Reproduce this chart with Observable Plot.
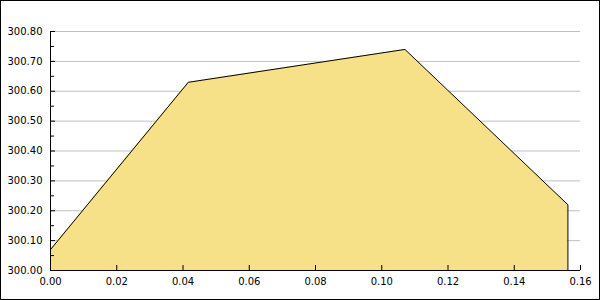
<!DOCTYPE html>
<html>
<head>
<meta charset="utf-8">
<script src="https://cdn.jsdelivr.net/npm/d3@7"></script>
<script src="https://cdn.jsdelivr.net/npm/@observablehq/plot@0.6"></script>
<style>
  html, body { margin: 0; padding: 0; background: #fff; }
  #wrap { position: relative; width: 600px; height: 300px; overflow: hidden; }
  #wrap svg { position: absolute; left: 0; top: 0; }
  #border { position: absolute; left: 0; top: 0; width: 600px; height: 300px; box-sizing: border-box; border: 1px solid #000; pointer-events: none; }
</style>
</head>
<body>
<div id="wrap"><div id="border"></div></div>
<script>
const xValues = [0.0, 0.0416, 0.107, 0.1562];
const yValues = [300.07, 300.63, 300.74, 300.22];
const xTicks = [0, 0.02, 0.04, 0.06, 0.08, 0.10, 0.12, 0.14, 0.16];
const yTicks = [300.0, 300.1, 300.2, 300.3, 300.4, 300.5, 300.6, 300.7, 300.8];
const yMinorTicks = [300.05, 300.15, 300.25, 300.35, 300.45, 300.55, 300.65, 300.75];

const yBase = 300.0;
const data = xValues.map((x, i) => ({x, y: yValues[i]}));
const lineData = [...data, {x: xValues[xValues.length - 1], y: yBase}];
const fmt = d3.format(".2f");
const font = "DejaVu Sans, sans-serif";

const chart = Plot.plot({
  width: 600,
  height: 300,
  marginLeft: 50,
  marginRight: 20,
  marginTop: 31,
  marginBottom: 30,
  style: {fontFamily: font, fontSize: "10px", color: "#000", background: "transparent"},
  x: {domain: [0, 0.16]},
  y: {domain: [300.0, 300.8]},
  marks: [
    Plot.gridY(yTicks, {stroke: "#c0c0c0", strokeOpacity: 1, strokeWidth: 1}),
    Plot.areaY(data, {x: "x", y1: yBase, y2: "y", fill: "#f6e188", fillOpacity: 1}),
    Plot.line(lineData, {x: "x", y: "y", stroke: "#000", strokeWidth: 1}),
    Plot.ruleX([0], {stroke: "#000"}),
    Plot.ruleY([yBase], {stroke: "#000"}),
    Plot.axisY(yTicks, {tickSize: -5, text: null, label: null}),
    Plot.axisY(yMinorTicks, {tickSize: -4, text: null, label: null}),
    Plot.axisY(yTicks, {tickSize: 0, tickPadding: 8, tickFormat: fmt, label: null, fontSize: 10}),
    Plot.axisX(xTicks, {tickSize: -5, text: null, label: null}),
    Plot.axisX(xTicks, {tickSize: 0, tickPadding: 7, tickFormat: fmt, label: null, fontSize: 10})
  ]
});
document.getElementById("wrap").insertBefore(chart, document.getElementById("border"));
</script>
</body>
</html>
